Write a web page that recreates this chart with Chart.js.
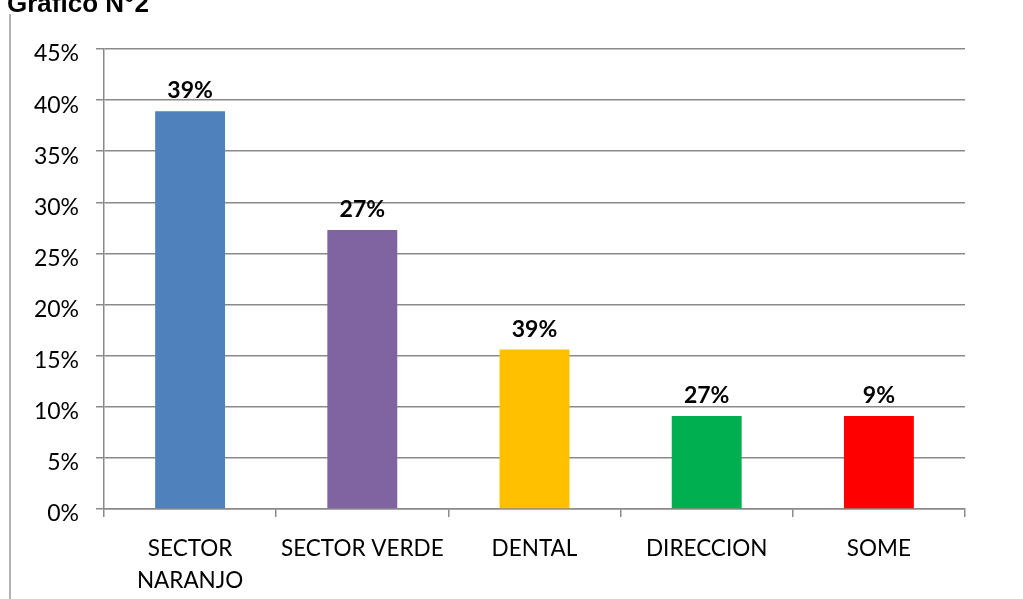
<!DOCTYPE html>
<html>
<head>
<meta charset="utf-8">
<script src="https://cdn.jsdelivr.net/npm/chart.js@4"></script>
<style>
	html, body {
		margin: 0;
		padding: 0;
		background: #ffffff;
		overflow: hidden;
	}
	#barChart {
		display: block;
	}
</style>
</head>
<body>
<canvas id="barChart" width="1023" height="599"></canvas>
<script>
// Chart data
const categories = [["SECTOR", "NARANJO"], "SECTOR VERDE", "DENTAL", "DIRECCION", "SOME"];
const percentValues = [38.9, 27.3, 15.6, 9.1, 9.1];
const printedLabels = ["39%", "27%", "39%", "27%", "9%"];
const barColors = ["#4F81BD", "#8064A2", "#FFC000", "#00B050", "#FF0000"];
const yTicks = [0, 5, 10, 15, 20, 25, 30, 35, 40, 45];

const gridColor = "#8a8a8a";
const labelFont = "Lato";

/*######################################*
||     Page title and left border     ||
*######################################*/

const pageDecor = {
	id: "pageDecor",
	beforeDraw(chart) {
		const ctx = chart.ctx;
		ctx.save();
		ctx.fillStyle = "#ffffff";
		ctx.fillRect(0, 0, chart.width, chart.height);

		// left border line of the page frame
		ctx.strokeStyle = "#9a9a9a";
		ctx.lineWidth = 1.5;
		ctx.beginPath();
		ctx.moveTo(10, 14);
		ctx.lineTo(10, chart.height);
		ctx.stroke();

		// heading, mostly above the top edge
		ctx.fillStyle = "#000000";
		ctx.font = "bold 26px 'Liberation Sans', Arial, sans-serif";
		ctx.textAlign = "left";
		ctx.textBaseline = "alphabetic";
		ctx.fillText("Gráfico N°2", 7, 12);
		ctx.restore();
	},
};

/*######################################*
||        Labels above the bars       ||
*######################################*/

const barLabels = {
	id: "barLabels",
	afterDatasetsDraw(chart) {
		const ctx = chart.ctx;
		const meta = chart.getDatasetMeta(0);
		ctx.save();
		ctx.fillStyle = "#000000";
		ctx.font = "bold 23px " + labelFont;
		ctx.textAlign = "center";
		ctx.textBaseline = "alphabetic";
		meta.data.forEach((bar, i) => {
			ctx.fillText(printedLabels[i], bar.x, bar.y - 13);
		});
		ctx.restore();
	},
};

new Chart("barChart", {
	type: "bar",
	data: {
		labels: categories,
		datasets: [
			{
				data: percentValues,
				backgroundColor: barColors,
				borderWidth: 0,
				categoryPercentage: 1,
				barPercentage: 0.406,
			},
		],
	},
	options: {
		responsive: false,
		animation: false,
		devicePixelRatio: 1,
		layout: {
			padding: { left: 0, right: 58, top: 49, bottom: 0 },
		},
		plugins: {
			legend: { display: false },
			tooltip: { enabled: false },
			title: { display: false },
		},
		scales: {
			x: {
				grid: {
					offset: true,
					drawOnChartArea: false,
					drawTicks: true,
					tickLength: 8,
					color: gridColor,
					lineWidth: 1.5,
				},
				border: { color: gridColor, width: 1.5 },
				ticks: {
					color: "#000000",
					padding: 16,
					maxRotation: 0,
					autoSkip: false,
					font: { family: labelFont, size: 22.5, lineHeight: "32px" },
				},
				afterFit(scale) {
					scale.height = 90;
				},
			},
			y: {
				min: 0,
				max: 45,
				afterBuildTicks(scale) {
					scale.ticks = yTicks.map((v) => ({ value: v }));
				},
				grid: {
					drawTicks: true,
					tickLength: 8,
					color: gridColor,
					lineWidth: 1.5,
				},
				border: { color: gridColor, width: 1.5 },
				ticks: {
					color: "#000000",
					padding: 17,
					labelOffset: 5,
					font: { family: labelFont, size: 23 },
					callback: (value) => value + "%",
				},
				afterFit(scale) {
					scale.width = 104;
				},
			},
		},
	},
	plugins: [pageDecor, barLabels],
});
</script>
</body>
</html>
